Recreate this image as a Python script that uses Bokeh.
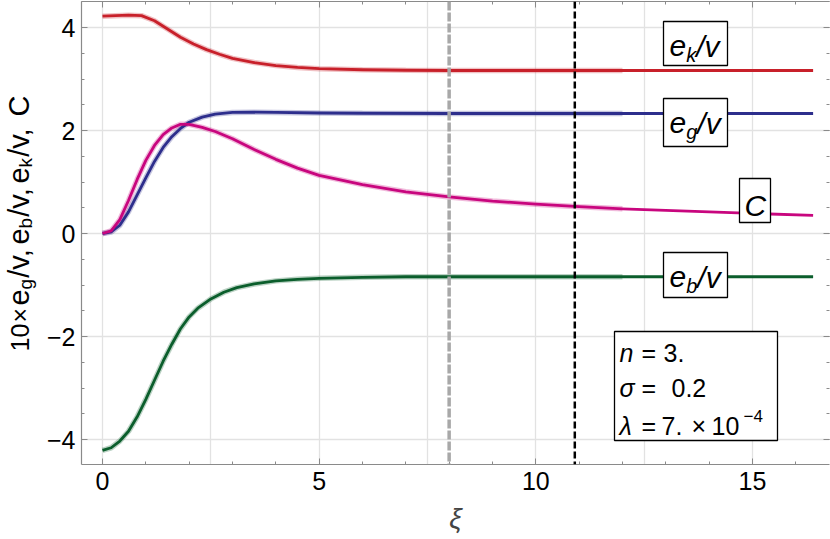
import math
from bokeh.plotting import figure
from bokeh.layouts import row
from bokeh.models import (Range1d, LinearAxis, SingleIntervalTicker, Span, Label,
                          BoxAnnotation, CustomJSTickFormatter)
from bokeh.embed import file_html
from bokeh.resources import INLINE

# ---------------- data ----------------
xi_k = [0, 0.3, 0.6, 0.9, 1.2, 1.5, 1.8, 2.1, 2.4, 2.7, 3.0, 3.5, 4.0, 4.5, 5.0, 6.0, 7.0, 8.0, 10.0, 12.0, 14.0, 16.4]
ek_v = [4.22, 4.23, 4.24, 4.23, 4.13, 3.97, 3.81, 3.68, 3.57, 3.48, 3.40, 3.32, 3.26, 3.225, 3.20, 3.18, 3.17, 3.165, 3.165, 3.165, 3.165, 3.165]

xi_g = [0, 0.2, 0.4, 0.6, 0.8, 1.0, 1.2, 1.4, 1.6, 1.8, 2.0, 2.3, 2.6, 3.0, 3.5, 4.0, 5.0, 6.0, 8.0, 10.0, 12.0, 14.0, 16.4]
eg_v = [0, 0.03, 0.16, 0.42, 0.75, 1.08, 1.40, 1.67, 1.88, 2.04, 2.16, 2.26, 2.32, 2.35, 2.355, 2.35, 2.34, 2.335, 2.33, 2.33, 2.33, 2.33, 2.33]

xi_c = [0, 0.2, 0.4, 0.6, 0.8, 1.0, 1.2, 1.4, 1.6, 1.8, 2.0, 2.3, 2.6, 3.0, 3.5, 4.0, 4.5, 5.0, 6.0, 7.0, 8.0, 9.0, 10.0, 11.0, 12.0, 13.0, 14.0, 15.0, 16.4]
c_val = [0, 0.05, 0.27, 0.64, 1.05, 1.42, 1.71, 1.92, 2.05, 2.12, 2.12, 2.06, 1.98, 1.84, 1.63, 1.44, 1.27, 1.13, 0.95, 0.81, 0.71, 0.63, 0.57, 0.52, 0.48, 0.45, 0.42, 0.39, 0.35]

xi_b = [0, 0.2, 0.4, 0.6, 0.8, 1.0, 1.2, 1.4, 1.6, 1.8, 2.0, 2.2, 2.5, 2.8, 3.1, 3.5, 4.0, 4.5, 5.0, 6.0, 7.0, 8.0, 10.0, 12.0, 14.0, 16.4]
eb_v = [-4.21, -4.16, -4.03, -3.84, -3.56, -3.22, -2.85, -2.48, -2.15, -1.85, -1.62, -1.45, -1.27, -1.14, -1.05, -0.98, -0.92, -0.89, -0.87, -0.85, -0.84, -0.84, -0.84, -0.84, -0.84, -0.84]

overlay_end = 12.0          # lighter companion curves stop here
v_gray = 8.0                # grey dashed marker
v_black = 10.9              # black dashed marker

x_ticks_major = 5
y_ticks_major = 2
y_tick_labels = {-4: "\u22124", -2: "\u22122", 0: "0", 2: "2", 4: "4"}

# ---------------- styling ----------------
FONT = "Liberation Sans"
C_RED, C_BLUE, C_MAG, C_GREEN = "#c8202a", "#2d2e8c", "#c8067e", "#0b5e2c"
AX = "#8a8a8a"
GRID = "#e2e2e2"
LW = 40          # width of the strip holding the rotated y-axis title
BASE_FIX = 0.24  # raise labels by this fraction of their size
FRAME_TOP, FRAME_BOTTOM = 1, 464   # frame rows (px) in the page

# pixel geometry of the reference (x=0 at 102px, 43.33 px/unit; y=0 at 233px, 51.5 px/unit)
PX0, SX = 102.0, 43.33
PY0, SY = 233.0, 51.5
def dx(px):
    return (px - PX0) / SX
def dy(py):
    return (PY0 - py) / SY

p = figure(width=830 - LW, height=539, output_backend="svg", toolbar_location=None,
           x_range=Range1d(dx(81), dx(829)), y_range=Range1d(dy(FRAME_BOTTOM), dy(FRAME_TOP)),
           min_border_left=81 - LW, min_border_right=1, min_border_top=FRAME_TOP,
           min_border_bottom=539 - FRAME_BOTTOM)
p.outline_line_color = None
p.background_fill_color = "white"
p.border_fill_color = "white"

blank = CustomJSTickFormatter(code="return ''")

def style_axis(ax, labels=True):
    ax.axis_line_color = AX
    ax.axis_line_width = 1.2
    ax.major_tick_line_color = AX
    ax.minor_tick_line_color = AX
    ax.major_tick_in = 6
    ax.major_tick_out = 0
    ax.minor_tick_in = 3
    ax.minor_tick_out = 0
    if labels:
        ax.major_label_text_font = FONT
        ax.major_label_text_font_size = "25px"
        ax.major_label_text_color = "black"
    else:
        ax.formatter = blank
        ax.major_label_standoff = 0

p.xaxis.ticker = SingleIntervalTicker(interval=x_ticks_major, num_minor_ticks=5)
p.yaxis.ticker = SingleIntervalTicker(interval=y_ticks_major, num_minor_ticks=4)
style_axis(p.xaxis[0])
style_axis(p.yaxis[0])
p.xaxis.major_label_standoff = 7
p.yaxis.major_label_standoff = 6
p.yaxis.major_label_overrides = y_tick_labels
p.xaxis.axis_label = "\u03be"
p.xaxis.axis_label_text_font = FONT
p.xaxis.axis_label_text_font_style = "italic"
p.xaxis.axis_label_text_font_size = "28px"
p.xaxis.axis_label_standoff = 10

top = LinearAxis(ticker=SingleIntervalTicker(interval=x_ticks_major, num_minor_ticks=5))
style_axis(top, labels=False)
p.add_layout(top, "above")
right = LinearAxis(ticker=SingleIntervalTicker(interval=y_ticks_major, num_minor_ticks=4))
style_axis(right, labels=False)
right.axis_line_color = None
p.add_layout(right, "right")

p.xgrid.ticker = SingleIntervalTicker(interval=2.5)
p.ygrid.ticker = SingleIntervalTicker(interval=2)
for g in (p.xgrid[0], p.ygrid[0]):
    g.grid_line_color = GRID
    g.grid_line_width = 1.3

# ---------------- curves ----------------
series = [(xi_k, ek_v, C_RED), (xi_g, eg_v, C_BLUE), (xi_c, c_val, C_MAG), (xi_b, eb_v, C_GREEN)]
for xs, ys, col in series:
    xs2 = [x for x in xs if x <= overlay_end]
    ys2 = [y for x, y in zip(xs, ys) if x <= overlay_end]
    p.line(xs2, ys2, line_color=col, line_width=5.5, line_alpha=0.28)
for xs, ys, col in series:
    p.line(xs, ys, line_color=col, line_width=2.8, line_join="round")

p.add_layout(Span(location=v_gray, dimension="height", line_color="#a8a8a8",
                  line_width=3.5, line_dash="9 2"))
p.add_layout(Span(location=v_black, dimension="height", line_color="black",
                  line_width=2.5, line_dash="7 3"))

# ---------------- text helpers ----------------
W = {' ': .278, ',': .278, '/': .278, '.': .278, '\u00d7': .584, '=': .584, 'e': .556,
     'g': .556, 'b': .556, 'k': .5, 'v': .5, 'C': .722, 'n': .556, '\u2212': .584}
def tw(s, size):
    return sum(W.get(c, .556) for c in s) * size

def put(fig, x, y, pieces):
    """horizontal pieces: (text, size, style, along_px, down_px)"""
    for text, size, style, a, d in pieces:
        fig.add_layout(Label(x=x, y=y, x_offset=a, y_offset=-d + BASE_FIX * size, text=text,
                             text_font=FONT, text_font_size=f"{size}px", text_font_style=style,
                             text_align="left", text_baseline="alphabetic",
                             text_color="black", level="overlay"))

def flow(seq):
    out, off = [], 0.0
    for text, size, style, d in seq:
        out.append((text, size, style, off, d))
        off += tw(text, size)
    return out

# boxed curve labels
def boxed(l, r, t, b):
    p.add_layout(BoxAnnotation(left=dx(l), right=dx(r), top=dy(t), bottom=dy(b),
                               fill_color="white", fill_alpha=1.0, line_color="black",
                               line_width=1.3, line_alpha=1.0))

boxed(663, 727, 21, 65)
put(p, dx(669), dy(53), flow([("e", 30, "italic", 0), ("k", 20, "italic", 6), ("/v", 30, "italic", 0)]))
boxed(663, 727, 98, 146)
put(p, dx(669), dy(130), flow([("e", 30, "italic", 0), ("g", 20, "italic", 6), ("/v", 30, "italic", 0)]))
boxed(739, 770, 178, 222)
put(p, dx(744), dy(212), flow([("C", 30, "italic", 0)]))
boxed(663, 727, 252, 297)
put(p, dx(669), dy(284), flow([("e", 30, "italic", 0), ("b", 20, "italic", 6), ("/v", 30, "italic", 0)]))

# parameter box
boxed(614, 777, 331, 440)
put(p, dx(619), dy(358), [("n", 25, "italic", 0, 0), ("=", 25, "normal", 22, 0), ("3.", 25, "normal", 44, 0)])
put(p, dx(619), dy(393), [("\u03c3", 25, "italic", 0, 0), ("=", 25, "normal", 22, 0), ("0.2", 25, "normal", 52, 0)])
put(p, dx(619), dy(431), [("\u03bb", 25, "italic", 0, 0), ("=", 25, "normal", 22, 0), ("7.", 25, "normal", 42, 0),
                          ("\u00d7", 25, "normal", 72, 0), ("10", 25, "normal", 92, 0),
                          ("\u22124", 17, "normal", 124, -11)])

# ---------------- rotated y-axis title in its own strip ----------------
# the row layout aligns this strip's frame with the main frame (rows FRAME_TOP..FRAME_BOTTOM),
# so its y range is set up so that data y = 539 - pixel row.
lab = figure(width=LW, height=539, output_backend="svg", toolbar_location=None,
             x_range=Range1d(0, LW), y_range=Range1d(539 - FRAME_BOTTOM, 539 - FRAME_TOP),
             x_axis_type=None, y_axis_type=None,
             min_border_left=0, min_border_right=0, min_border_top=FRAME_TOP,
             min_border_bottom=539 - FRAME_BOTTOM)
lab.outline_line_color = None
lab.grid.visible = False
lab.background_fill_color = "white"
lab.border_fill_color = "white"

def vpiece(text, size, py_start, sub=0):
    # rotated text reading bottom-to-top, baseline at x = 25 px; centred along its own length
    centre = py_start - tw(text, size) / 2.0
    lab.add_layout(Label(x=25 - BASE_FIX * size + sub, y=539 - centre, text=text, angle=math.pi / 2,
                         text_font=FONT, text_font_size=f"{size}px", text_font_style="normal",
                         text_align="center", text_baseline="alphabetic",
                         text_color="black", level="overlay"))

DS, LS, SS = 25, 29, 19   # digits, letters, subscripts
vpiece("10", DS, 351)
vpiece("\u00d7", DS, 322)
for sub_letter, start in (("g", 305), ("b", 244), ("k", 183)):
    vpiece("e", LS, start)
    vpiece(sub_letter, SS, start - tw("e", LS), sub=5)
    vpiece("/v,", LS, start - tw("e", LS) - tw(sub_letter, SS))
vpiece("C", LS, 116)

layout = row(lab, p, spacing=0)
open("out.html", "w").write(file_html(layout, INLINE))
